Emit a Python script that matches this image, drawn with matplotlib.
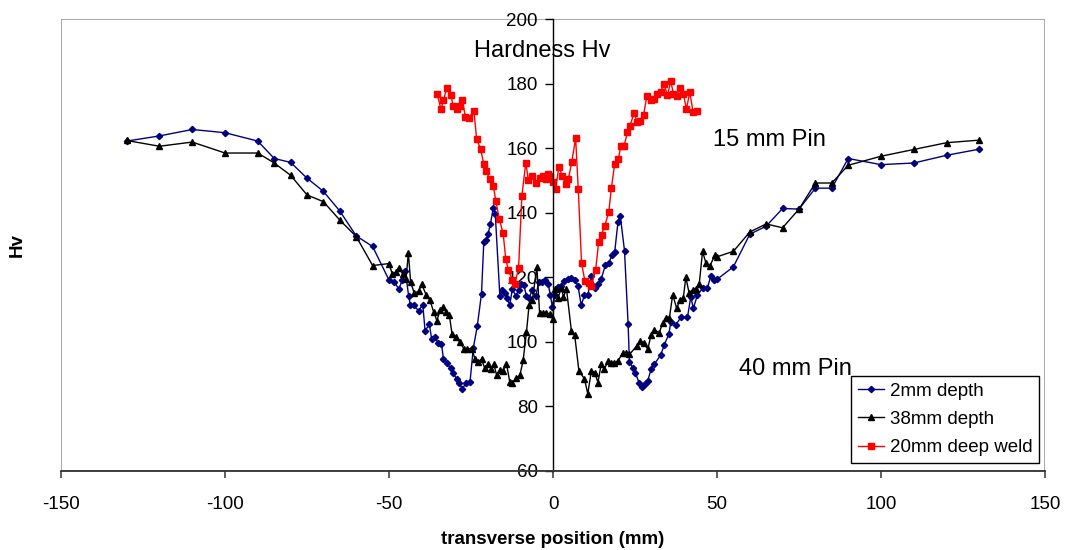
import matplotlib
matplotlib.use("Agg")
import matplotlib.pyplot as plt
from matplotlib.patches import Rectangle

plt.rcParams["font.family"] = ["Liberation Sans", "DejaVu Sans"]
plt.rcParams["axes.unicode_minus"] = False

# 2mm depth (blue)
x_2mm = [-130, -120, -110, -100, -90, -85, -80, -75, -70, -65, -60, -55, -50, -48.5, -47, -46, -45, -44,
         -43.5, -42.3, -41, -39.7, -39, -37.7, -37, -36, -35, -34, -33.4, -32.3, -31.2, -30.4, -29.4, -28.6,
         -27.6, -26.5, -25.3, -24.3, -23.1, -21.8, -21.1, -20.3, -19.8, -19.1, -18.2, -17.6, -16.2, -15.4,
         -14.6, -13.9, -13.2, -12.4, -11.3, -10.5, -9.7, -8.9, -8.1, -7.3, -6.3, -5.3, -4.3, -3.3, -2.3,
         -1.5, -0.8, -0.2, 0.5, 1.5, 2.5, 3.5, 4.6, 5.6, 6.6, 7.6, 8.6, 9.6, 10.6, 11.7, 12.7, 13.7, 14.7,
         16.0, 17.0, 18.0, 18.8, 19.8, 20.5, 21.8, 22.9, 23.3, 24.3, 25.1, 26.2, 27.0, 27.9, 28.9, 29.9,
         30.9, 32.9, 33.9, 35.3, 35.9, 37.5, 39.0, 41.0, 42.0, 42.8, 44.0, 45.6, 47.1, 48.1, 49.1, 50, 55,
         60, 65, 70, 75, 80, 85, 90, 100, 110, 120, 130]
hv_2mm = [162.2, 163.8, 165.8, 164.8, 162.2, 156.8, 155.6, 150.7, 146.6, 140.5, 132.8, 129.5, 119.1, 118.6,
          116.3, 119.0, 121.8, 114.0, 111.5, 111.2, 109.5, 111.5, 103.3, 105.4, 100.8, 101.5, 99.6, 99.4, 94.5,
          93.3, 91.7, 90.2, 88.4, 87.1, 85.3, 87.3, 87.5, 98.0, 104.7, 114.9, 130.8, 131.6, 133.4, 136.4,
          141.5, 139.5, 114.1, 116.1, 115.1, 113.5, 111.2, 116.3, 114.1, 116.1, 117.9, 117.6, 114.1, 113.5,
          116.1, 114.0, 118.5, 118.5, 119.0, 118.0, 114.4, 110.8, 114.4, 116.9, 117.4, 118.7, 119.3, 119.7,
          119.0, 117.4, 111.3, 114.4, 114.4, 120.3, 116.6, 118.0, 119.5, 123.8, 124.4, 126.8, 127.7, 137.0,
          139.1, 128.2, 105.4, 93.8, 91.9, 90.4, 87.3, 85.8, 86.8, 87.9, 91.4, 93.0, 95.9, 99.0, 102.2,
          106.0, 105.3, 107.5, 107.5, 113.9, 110.3, 114.4, 116.5, 116.7, 120.3, 119.0, 119.3, 123.2, 133.3,
          135.8, 141.3, 141.1, 147.6, 147.6, 156.8, 154.9, 155.4, 157.8, 159.7]

# 38mm depth (black)
x_38mm = [-130, -120, -110, -100, -90, -85, -80, -75, -70, -65, -60, -55, -50, -49, -48, -47, -45.8, -44.8,
          -44.1, -43.4, -42.3, -41, -40, -38.7, -37.5, -36.4, -35.4, -34.4, -33.4, -32.6, -31.6, -30.8,
          -29.6, -28.4, -27.2, -26.1, -24.8, -23.8, -22.8, -21.8, -20.8, -19.8, -18.8, -18.0, -17.2, -16.2,
          -15.2, -14.2, -13.2, -12.4, -11.3, -10.1, -9.1, -8.1, -7.3, -6.3, -4.9, -4.1, -3.1, -2.1, -1.0,
          0.0, 0.5, 1.5, 2.5, 3.2, 4.1, 5.6, 6.6, 7.9, 9.6, 10.6, 11.7, 12.7, 13.7, 14.7, 15.7, 16.7, 17.7,
          18.7, 19.8, 21.3, 22.3, 23.3, 25.5, 26.5, 27.6, 28.9, 29.9, 30.9, 32.4, 33.4, 34.4, 35.5, 36.5,
          37.7, 38.7, 39.7, 40.5, 41.5, 42.6, 43.6, 44.6, 45.6, 46.6, 47.8, 49.4, 50, 55, 60, 65, 70, 75,
          80, 85, 90, 100, 110, 120, 130]
hv_38mm = [162.4, 160.6, 161.9, 158.5, 158.5, 155.4, 151.6, 145.5, 143.4, 137.7, 132.6, 123.6, 124.2, 121.0,
           121.5, 122.9, 120.9, 119.5, 127.5, 118.4, 115.0, 115.6, 117.8, 114.5, 112.8, 109.2, 106.5, 109.8,
           110.8, 109.2, 108.2, 102.5, 101.5, 99.8, 97.8, 97.8, 97.8, 94.7, 93.7, 94.5, 91.7, 92.9, 91.5,
           92.9, 89.6, 91.2, 91.0, 93.2, 87.6, 87.1, 88.6, 89.5, 94.2, 102.9, 111.2, 113.0, 123.0, 109.0,
           109.0, 109.0, 108.5, 106.9, 116.4, 113.4, 116.6, 113.9, 116.4, 103.4, 102.1, 90.9, 88.4, 83.8,
           90.9, 90.4, 87.3, 93.0, 91.4, 94.0, 93.5, 93.5, 94.0, 96.5, 96.5, 96.0, 98.6, 100.3, 99.6, 97.6,
           102.1, 103.7, 102.7, 105.7, 107.4, 107.4, 114.6, 110.3, 112.9, 113.4, 119.9, 115.1, 116.1, 116.4,
           118.0, 128.0, 124.4, 123.3, 127.0, 126.3, 128.0, 134.0, 136.5, 135.3, 141.1, 149.2, 149.2, 154.7,
           157.5, 159.6, 161.7, 162.5]

# 20mm deep weld (red)
x_20mm = [-35.3, -34.2, -33.4, -32.4, -31.2, -30.4, -29.4, -28.4, -27.6, -26.7, -25.7, -24.1, -23.3, -22.1,
          -21.1, -20.3, -19.3, -18.2, -17.4, -16.4, -15.2, -14.4, -13.6, -12.4, -11.6, -10.5, -9.5, -8.3,
          -7.5, -6.5, -5.1, -4.1, -3.0, -2.0, -1.4, -0.8, 0.0, 0.8, 1.8, 2.8, 3.9, 4.7, 5.7, 6.9, 7.7, 8.7,
          9.7, 10.9, 11.7, 13.0, 13.9, 14.8, 15.8, 17.0, 17.8, 18.8, 19.9, 20.7, 21.7, 22.7, 23.5, 24.7,
          25.7, 26.5, 27.6, 28.6, 29.8, 30.8, 31.8, 32.8, 33.8, 34.9, 35.9, 36.7, 37.7, 38.7, 39.7, 40.7,
          41.7, 42.7, 43.8]
hv_20mm = [176.9, 172.2, 174.8, 178.7, 176.4, 173.2, 172.2, 173.2, 174.8, 169.6, 169.4, 171.5, 163.0, 159.7,
           155.2, 152.9, 150.3, 148.2, 143.5, 138.1, 133.6, 125.6, 122.2, 119.1, 118.0, 122.7, 145.1, 155.5,
           150.0, 151.4, 149.3, 150.6, 151.4, 150.3, 151.9, 151.5, 149.4, 147.3, 154.3, 151.5, 148.9, 150.5,
           155.6, 163.1, 147.4, 124.4, 118.9, 118.3, 117.3, 122.2, 130.8, 133.2, 136.0, 140.1, 147.7, 155.1,
           156.5, 160.8, 160.8, 165.0, 167.0, 170.9, 168.1, 168.4, 170.2, 176.1, 174.8, 175.3, 176.9, 177.4,
           180.0, 176.4, 180.8, 176.9, 176.1, 178.8, 176.9, 172.2, 177.4, 171.2, 171.5]

x_ticks = [-150, -100, -50, 0, 50, 100, 150]
y_ticks = [60, 80, 100, 120, 140, 160, 180, 200]

fig = plt.figure(figsize=(10.65, 5.5), dpi=100)
ax = fig.add_axes([0.0573, 0.1445, 0.9239, 0.8205])

ax.plot(x_2mm, hv_2mm, color="#000080", marker="D", markersize=3.2, linewidth=1.0, label="2mm depth")
ax.plot(x_38mm, hv_38mm, color="black", marker="^", markersize=4.8, linewidth=1.0, label="38mm depth")
ax.plot(x_20mm, hv_20mm, color="#ff0000", marker="s", markersize=4, linewidth=1.0, label="20mm deep weld")

ax.set_xlim(-150, 150)
ax.set_ylim(60, 200)
ax.set_xticks(x_ticks)
ax.set_yticks(y_ticks)

# plot area border in grey, value axis crossing at x = 0
for side in ["top", "right"]:
    ax.spines[side].set_visible(False)
ax.add_patch(Rectangle((0, 0), 1, 1, transform=ax.transAxes, fill=False,
                       edgecolor="#9a9a9a", linewidth=1.2, zorder=0))
ax.spines["left"].set_position(("data", 0))
ax.spines["left"].set_color("black")
ax.spines["left"].set_linewidth(1.0)
ax.spines["bottom"].set_color("#333333")
ax.spines["bottom"].set_linewidth(1.3)

ax.tick_params(axis="x", direction="out", length=5, width=1.1, color="#333333",
               labelsize=13.5, pad=13)
ax.tick_params(axis="y", direction="out", length=6, width=1.0, color="black",
               labelsize=13.5, pad=5)

ax.set_xlabel("transverse position (mm)", fontsize=13.5, fontweight="bold")
ax.xaxis.set_label_coords(0.5, -0.133)
ax.set_ylabel("Hv", fontsize=13.5, fontweight="bold")
ax.yaxis.set_label_coords(-0.036, 0.5)

ax.text(-3.4, 190.0, "Hardness Hv", fontsize=17, ha="center", va="center")
ax.text(66, 162.5, "15 mm Pin", fontsize=17, ha="center", va="center")
ax.text(74, 91.5, "40 mm Pin", fontsize=17, ha="center", va="center")

leg = ax.legend(loc="lower right", bbox_to_anchor=(0.994, 0.017), fontsize=13.5,
                frameon=True, fancybox=False, edgecolor="black", framealpha=1,
                borderaxespad=0, handlelength=1.4, handletextpad=0.3,
                labelspacing=0.6, borderpad=0.35)
leg.get_frame().set_linewidth(1.0)

fig.savefig("out.png", dpi=100)
